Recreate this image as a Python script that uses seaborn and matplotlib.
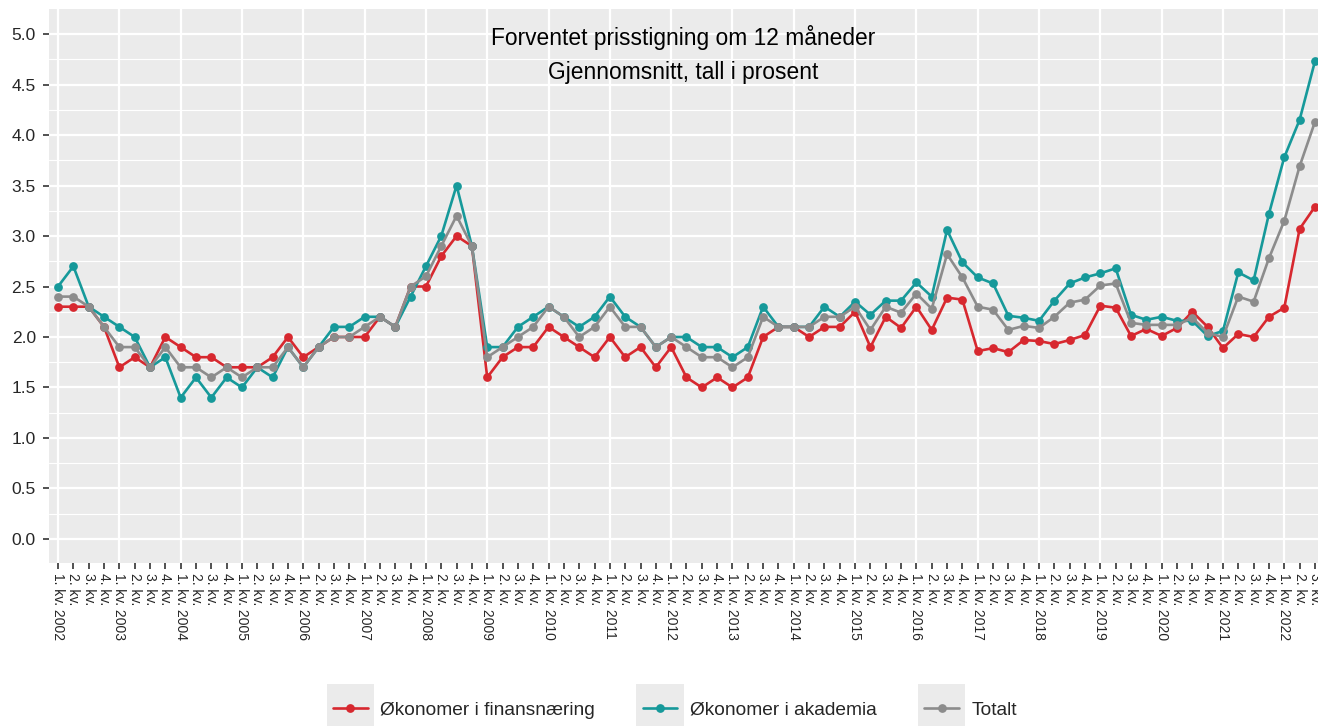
import numpy as np
import pandas as pd
import matplotlib
matplotlib.use("Agg")
import matplotlib.pyplot as plt
import seaborn as sns
from matplotlib.lines import Line2D
from matplotlib.patches import Rectangle
from matplotlib.legend_handler import HandlerLine2D
from matplotlib.ticker import FixedLocator, FixedFormatter

# Quarterly survey, 2002 Q1 - 2022 Q3
years = list(range(2002, 2023))
n_quarters = 83

finans = [2.3, 2.3, 2.3, 2.1,  1.7, 1.8, 1.7, 2.0,  1.9, 1.8, 1.8, 1.7,
          1.7, 1.7, 1.8, 2.0,  1.8, 1.9, 2.0, 2.0,  2.0, 2.2, 2.1, 2.5,
          2.5, 2.8, 3.0, 2.9,  1.6, 1.8, 1.9, 1.9,  2.1, 2.0, 1.9, 1.8,
          2.0, 1.8, 1.9, 1.7,  1.9, 1.6, 1.5, 1.6,  1.5, 1.6, 2.0, 2.1,
          2.1, 2.0, 2.1, 2.1,  2.25, 1.90, 2.20, 2.09,  2.30, 2.07, 2.39, 2.37,
          1.86, 1.89, 1.85, 1.97,  1.96, 1.93, 1.97, 2.02,  2.31, 2.29, 2.01, 2.08,
          2.01, 2.09, 2.25, 2.10,  1.89, 2.03, 2.00, 2.20,  2.29, 3.07, 3.29]

akademia = [2.5, 2.7, 2.3, 2.2,  2.1, 2.0, 1.7, 1.8,  1.4, 1.6, 1.4, 1.6,
            1.5, 1.7, 1.6, 1.9,  1.7, 1.9, 2.1, 2.1,  2.2, 2.2, 2.1, 2.4,
            2.7, 3.0, 3.5, 2.9,  1.9, 1.9, 2.1, 2.2,  2.3, 2.2, 2.1, 2.2,
            2.4, 2.2, 2.1, 1.9,  2.0, 2.0, 1.9, 1.9,  1.8, 1.9, 2.3, 2.1,
            2.1, 2.1, 2.3, 2.2,  2.35, 2.22, 2.36, 2.36,  2.54, 2.40, 3.06, 2.74,
            2.59, 2.53, 2.21, 2.19,  2.16, 2.36, 2.53, 2.59,  2.63, 2.68, 2.22, 2.17,
            2.20, 2.16, 2.16, 2.01,  2.06, 2.64, 2.56, 3.22,  3.78, 4.15, 4.73]

totalt = [2.4, 2.4, 2.3, 2.1,  1.9, 1.9, 1.7, 1.9,  1.7, 1.7, 1.6, 1.7,
          1.6, 1.7, 1.7, 1.9,  1.7, 1.9, 2.0, 2.0,  2.1, 2.2, 2.1, 2.5,
          2.6, 2.9, 3.2, 2.9,  1.8, 1.9, 2.0, 2.1,  2.3, 2.2, 2.0, 2.1,
          2.3, 2.1, 2.1, 1.9,  2.0, 1.9, 1.8, 1.8,  1.7, 1.8, 2.2, 2.1,
          2.1, 2.1, 2.2, 2.2,  2.30, 2.07, 2.30, 2.24,  2.43, 2.28, 2.82, 2.59,
          2.30, 2.27, 2.07, 2.11,  2.09, 2.20, 2.34, 2.37,  2.51, 2.53, 2.14, 2.12,
          2.12, 2.12, 2.19, 2.04,  2.00, 2.40, 2.35, 2.78,  3.15, 3.69, 4.13]

series_names = ["Økonomer i finansnæring", "Økonomer i akademia", "Totalt"]
colors = ["#D7282F", "#16999A", "#8C8C8C"]

# tick labels: "1. kv. 2002", "2. kv.", ...
quarter_labels = []
for y in years:
    for q in range(1, 5):
        if len(quarter_labels) < n_quarters:
            quarter_labels.append(f"{q}. kv. {y}" if q == 1 else f"{q}. kv.")

idx = np.arange(n_quarters)
df = pd.concat([
    pd.DataFrame({"idx": idx, "verdi": vals, "serie": name})
    for name, vals in zip(series_names, [finans, akademia, totalt])
])

sns.set_theme(style="darkgrid", rc={
    "axes.facecolor": "#EBEBEB",
    "grid.color": "white",
})
plt.rcParams["font.family"] = ["Liberation Sans", "DejaVu Sans"]

fig = plt.figure(figsize=(13.18, 7.26), dpi=100)
ax = fig.add_axes([49 / 1318, (726 - 563) / 726, (1318 - 49) / 1318, (563 - 9) / 726])

sns.lineplot(data=df, x="idx", y="verdi", hue="serie", hue_order=series_names,
             palette=colors, marker="o", markersize=6.3, markeredgewidth=0,
             linewidth=1.9, legend=False, ax=ax)

ax.set_xlim(-0.59, 82.2)
ax.set_ylim(-0.238, 5.248)
ax.set_xlabel("")
ax.set_ylabel("")

# y axis
ax.set_yticks(np.arange(0, 5.01, 0.5))
ax.set_yticklabels([f"{v:.1f}" for v in np.arange(0, 5.01, 0.5)])
ax.set_yticks(np.arange(0.25, 5.1, 0.5), minor=True)

# x axis: Q1 as major (with grid), other quarters as minor
major_pos = [i for i in idx if i % 4 == 0]
minor_pos = [i for i in idx if i % 4 != 0]
ax.xaxis.set_major_locator(FixedLocator(major_pos))
ax.xaxis.set_major_formatter(FixedFormatter([quarter_labels[i] for i in major_pos]))
ax.xaxis.set_minor_locator(FixedLocator(minor_pos))
ax.xaxis.set_minor_formatter(FixedFormatter([quarter_labels[i] for i in minor_pos]))

ax.grid(which="major", axis="both", color="white", linewidth=1.6)
ax.grid(which="minor", axis="y", color="white", linewidth=0.8)
ax.grid(which="minor", axis="x", visible=False)

ax.tick_params(axis="y", which="major", left=True, length=4.5, width=1.2,
               color="#333333", labelsize=12.5, labelcolor="#262626", pad=5)
ax.tick_params(axis="y", which="minor", left=False)
ax.tick_params(axis="x", which="both", bottom=True, length=4.5, width=1.2,
               color="#333333", labelsize=10, labelcolor="#262626", pad=2.5)
for lab in ax.get_xticklabels(which="both"):
    lab.set_rotation(-90)
    lab.set_va("top")
    lab.set_ha("center")
    lab.set_rotation_mode("default")

for s in ax.spines.values():
    s.set_visible(False)

ax.text(0.5, (563 - 37) / 554, "Forventet prisstigning om 12 måneder",
        transform=ax.transAxes, ha="center", va="center", fontsize=16.4, color="black")
ax.text(0.5, (563 - 72) / 554, "Gjennomsnitt, tall i prosent",
        transform=ax.transAxes, ha="center", va="center", fontsize=16.4, color="black")


# legend keys with grey box behind them, like ggplot
class KeyHandler(HandlerLine2D):
    def create_artists(self, legend, orig_handle, xdescent, ydescent,
                       width, height, fontsize, trans):
        artists = super().create_artists(legend, orig_handle, xdescent, ydescent,
                                         width, height, fontsize, trans)
        cx = -xdescent + width / 2
        cy = -ydescent + height / 2
        box = Rectangle((cx - 17, cy - 17), 34, 34, facecolor="#EBEBEB",
                        edgecolor="none", transform=trans, zorder=0)
        return [box] + list(artists)


handles = [Line2D([], [], color=c, marker="o", markersize=6.3, markeredgewidth=0,
                  linewidth=1.9) for c in colors]
fig.legend(handles, series_names, loc="center", bbox_to_anchor=(675 / 1318, 1 - 710 / 726),
           ncol=3, frameon=False, fontsize=13.8, handlelength=1.8, handletextpad=0.65,
           columnspacing=2.5, numpoints=1,
           handler_map={Line2D: KeyHandler()})

fig.savefig("out.png", dpi=100)
